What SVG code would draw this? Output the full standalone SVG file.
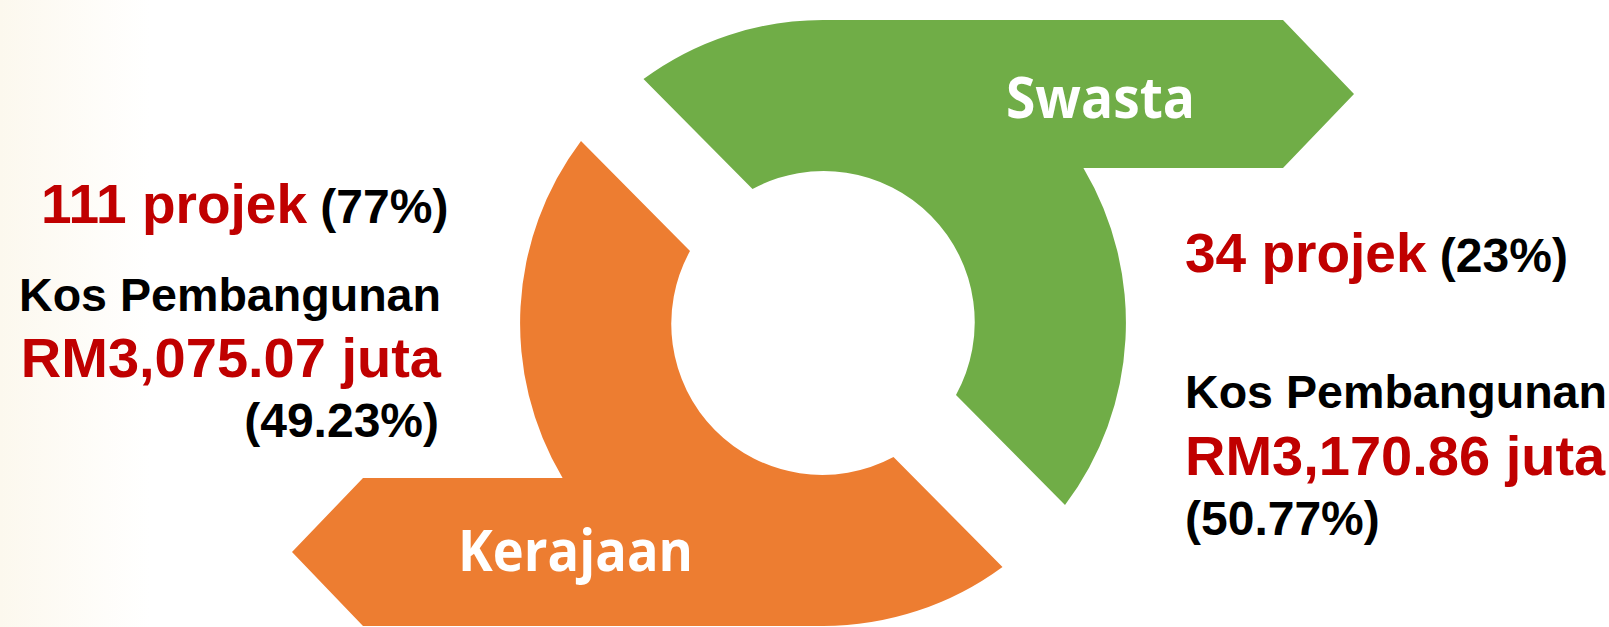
<svg xmlns="http://www.w3.org/2000/svg" width="1609" height="627" viewBox="0 0 1609 627">
  <defs>
    <linearGradient id="bgTint" x1="0" y1="0" x2="1" y2="0">
      <stop offset="0" stop-color="#FCF8EE"/>
      <stop offset="1" stop-color="#FFFFFF"/>
    </linearGradient>
  </defs>
  <style>
    .lbl { font-family: "Open Sans", "Lato", sans-serif; font-weight: 700; fill: #FFFFFF; }
    .t { font-family: "Liberation Sans", Arial, sans-serif; font-weight: 700; }
    .red { fill: #C00000; }
    .blk { fill: #000000; }
  </style>
  <rect x="0" y="0" width="1609" height="627" fill="#FFFFFF"/>
  <rect x="0" y="0" width="150" height="627" fill="url(#bgTint)"/>

  <g id="node-swasta">
    <path fill="#70AD47" d="M 643.5 79 A 303 303 0 0 1 823 20 L 1283 20 L 1354 94 L 1283 168 L 1083.4 168 A 303 303 0 0 1 1065 505 L 956 395 A 151 151 0 0 0 752.5 189 Z"/>
    <text class="lbl" x="1006" y="118" font-size="57" textLength="189" lengthAdjust="spacingAndGlyphs">Swasta</text>
  </g>

  <g id="node-kerajaan">
    <path fill="#ED7D31" d="M 1002.5 567 A 303 303 0 0 1 823 626 L 363 626 L 292 552 L 363 478 L 562.6 478 A 303 303 0 0 1 581 141 L 690 251 A 151 151 0 0 0 893.5 457 Z"/>
    <text class="lbl" x="458" y="571" font-size="58" textLength="235" lengthAdjust="spacingAndGlyphs">Kerajaan</text>
  </g>

  <g id="connectors"></g>

  <g id="info-kerajaan">
    <text class="t" x="41" y="223"><tspan class="red" font-size="55">111 projek</tspan><tspan class="blk" font-size="48"> (77%)</tspan></text>
    <text class="t blk" x="441" y="311" font-size="46" text-anchor="end" textLength="422" lengthAdjust="spacingAndGlyphs">Kos Pembangunan</text>
    <text class="t red" x="441" y="377" font-size="56" text-anchor="end">RM3,075.07 juta</text>
    <text class="t blk" x="439" y="437" font-size="48" text-anchor="end">(49.23%)</text>
  </g>

  <g id="info-swasta">
    <text class="t" x="1185" y="272"><tspan class="red" font-size="55">34 projek</tspan><tspan class="blk" font-size="48"> (23%)</tspan></text>
    <text class="t blk" x="1185" y="408" font-size="46" textLength="422" lengthAdjust="spacingAndGlyphs">Kos Pembangunan</text>
    <text class="t red" x="1185" y="475" font-size="56">RM3,170.86 juta</text>
    <text class="t blk" x="1185" y="535" font-size="48">(50.77%)</text>
  </g>
</svg>
